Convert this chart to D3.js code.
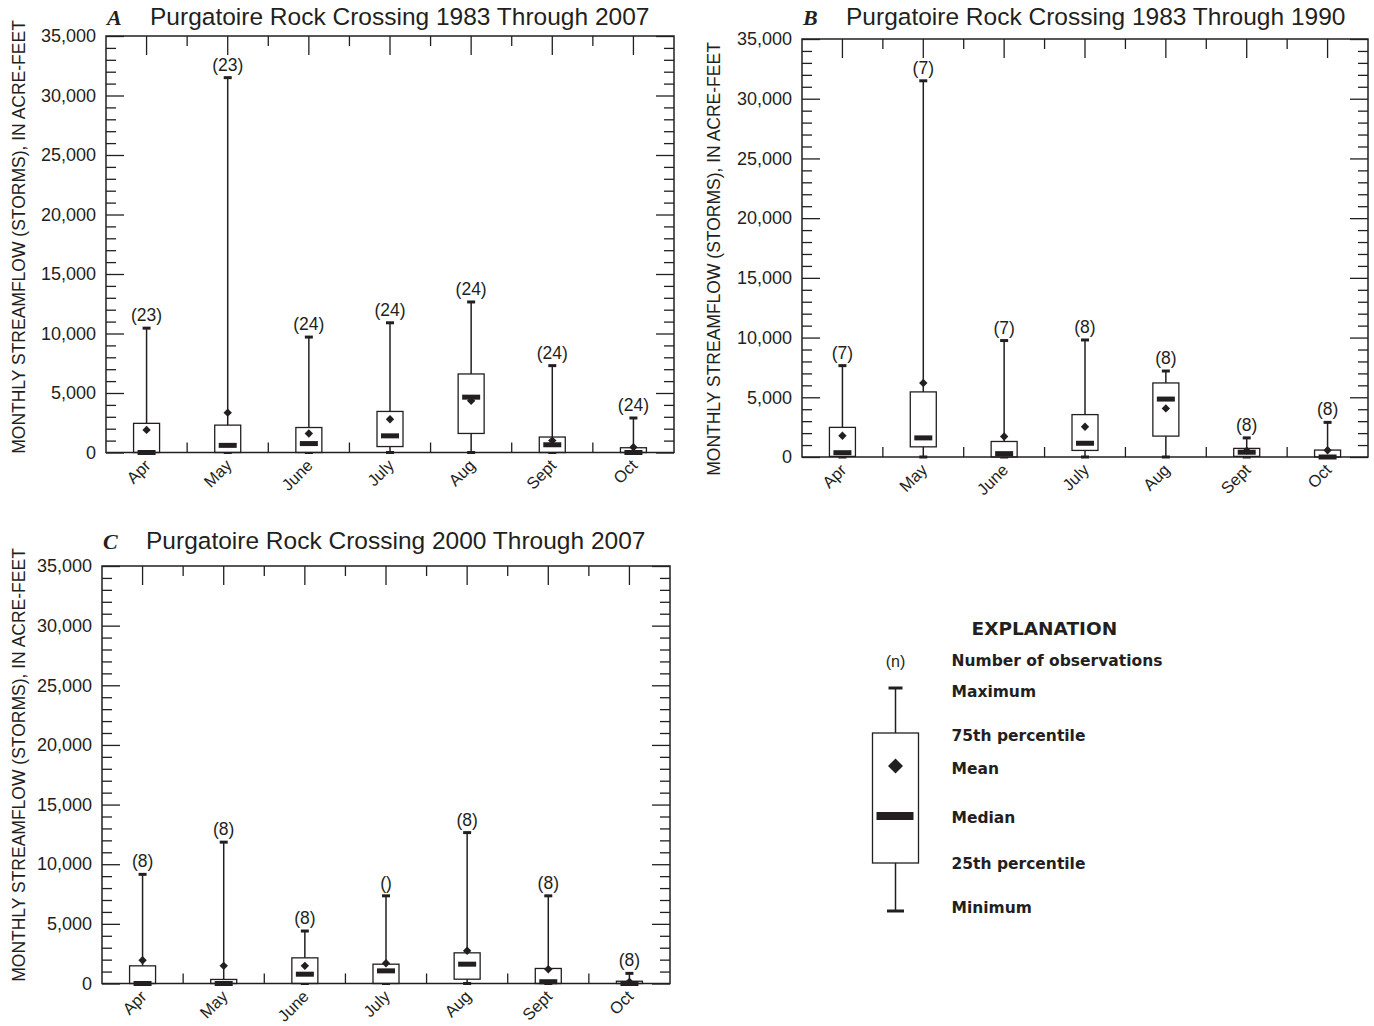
<!DOCTYPE html>
<html>
<head>
<meta charset="utf-8">
<script src="https://cdn.jsdelivr.net/npm/d3@7"></script>
<style>
  body { margin: 0; background: #fff; }
  svg { display: block; font-family: "Liberation Sans", Arial, Helvetica, sans-serif; }
</style>
</head>
<body>
<svg id="chart" width="1374" height="1026"></svg>
<script>
// ---- Data: monthly storm streamflow, acre-feet ----
const months = ["Apr", "May", "June", "July", "Aug", "Sept", "Oct"];
const yMajorTicks = [0, 5000, 10000, 15000, 20000, 25000, 30000, 35000];
const yMinorStep = 1000;
const yMax = 35000;

// A: 1983 through 2007
const aN      = ["23", "23", "24", "24", "24", "24", "24"];
const aMin    = [0, 0, 0, 0, 0, 0, 0];
const aQ1     = [0, 0, 0, 500, 1600, 0, 0];
const aMedian = [0, 600, 750, 1400, 4650, 650, 0];
const aQ3     = [2450, 2300, 2100, 3450, 6600, 1300, 400];
const aMaxV   = [10450, 31500, 9700, 10900, 12650, 7300, 2900];
const aMean   = [1900, 3350, 1600, 2800, 4350, 1000, 450];

// B: 1983 through 1990
const bN      = ["7", "7", "7", "8", "8", "8", "8"];
const bMin    = [0, 0, 0, 0, 0, 0, 0];
const bQ1     = [50, 850, 0, 550, 1750, 50, 0];
const bMedian = [360, 1600, 280, 1150, 4850, 400, 0];
const bQ3     = [2480, 5450, 1300, 3550, 6200, 720, 580];
const bMaxV   = [7650, 31500, 9750, 9800, 7200, 1600, 2900];
const bMean   = [1780, 6200, 1720, 2530, 4070, 530, 570];

// C: 2000 through 2007
const cN      = ["8", "8", "8", "", "8", "8", "8"];
const cMin    = [0, 0, 0, 0, 0, 0, 0];
const cQ1     = [0, 0, 0, 0, 360, 0, 0];
const cMedian = [0, 0, 780, 1060, 1620, 150, 0];
const cQ3     = [1480, 340, 2150, 1620, 2570, 1260, 190];
const cMaxV   = [9150, 11850, 4400, 7350, 12650, 7350, 850];
const cMean   = [1950, 1480, 1480, 1700, 2740, 1200, 140];

// Explanation entries
const legendLabels = ["Number of observations", "Maximum", "75th percentile",
                      "Mean", "Median", "25th percentile", "Minimum"];

// ---- Drawing ----
const ink = "#231f20";
const svg = d3.select("#chart");

const panels = [
  { letter: "A", title: "Purgatoire Rock Crossing 1983 Through 2007",
    n: aN, min: aMin, q1: aQ1, median: aMedian, q3: aQ3, max: aMaxV, mean: aMean,
    left: 106, right: 674, top: 36, bottom: 452.5, titleY: 25, yTitleX: 25, yTitleY: 237 },
  { letter: "B", title: "Purgatoire Rock Crossing 1983 Through 1990",
    n: bN, min: bMin, q1: bQ1, median: bMedian, q3: bQ3, max: bMaxV, mean: bMean,
    left: 802, right: 1368, top: 39, bottom: 457, titleY: 25, yTitleX: 720, yTitleY: 259 },
  { letter: "C", title: "Purgatoire Rock Crossing 2000 Through 2007",
    n: cN, min: cMin, q1: cQ1, median: cMedian, q3: cQ3, max: cMaxV, mean: cMean,
    left: 102, right: 670, top: 566, bottom: 983.5, titleY: 549, yTitleX: 25, yTitleY: 765 }
];

const yMinorTicks = d3.range(yMinorStep, yMax, yMinorStep).filter(v => v % 5000 !== 0);

function diamond(cx, cy, r) {
  return `M${cx},${cy - r}L${cx + r},${cy}L${cx},${cy + r}L${cx - r},${cy}Z`;
}

function styleAxis(sel) {
  sel.select(".domain").remove();
  sel.selectAll(".tick line").attr("stroke", ink).attr("stroke-width", 1.3);
  sel.selectAll(".tick text").attr("fill", ink).attr("font-size", 18)
     .attr("font-family", "'Liberation Sans', Arial, sans-serif");
}

function drawPanel(p) {
  const g = svg.append("g");
  const x = d3.scaleBand().domain(months).range([p.left, p.right]);
  const y = d3.scaleLinear().domain([0, yMax]).range([p.bottom, p.top]);
  const cx = m => x(m) + x.bandwidth() / 2;

  // Title with italic panel letter
  g.append("text").attr("x", p.left + 1).attr("y", p.titleY)
    .attr("font-family", "'Liberation Serif', 'Times New Roman', serif")
    .attr("font-style", "italic").attr("font-weight", "bold")
    .attr("font-size", 22).attr("fill", ink).text(p.letter);
  g.append("text").attr("x", p.left + 44).attr("y", p.titleY)
    .attr("font-size", 24.5).attr("fill", ink).text(p.title);

  // Y axis title
  g.append("text")
    .attr("transform", `translate(${p.yTitleX},${p.yTitleY}) rotate(-90)`)
    .attr("text-anchor", "middle").attr("font-size", 17.5).attr("fill", ink)
    .text("MONTHLY STREAMFLOW (STORMS), IN ACRE-FEET");

  // Left axis: labelled major ticks + minor ticks, all pointing inward
  g.append("g").attr("transform", `translate(${p.left},0)`)
    .call(d3.axisLeft(y).tickValues(yMajorTicks).tickSize(-18).tickPadding(10)
      .tickFormat(d3.format(",")))
    .call(styleAxis);
  g.append("g").attr("transform", `translate(${p.left},0)`)
    .call(d3.axisLeft(y).tickValues(yMinorTicks).tickSize(-10).tickFormat(""))
    .call(styleAxis);
  // Right axis mirror ticks
  g.append("g").attr("transform", `translate(${p.right},0)`)
    .call(d3.axisRight(y).tickValues(yMajorTicks).tickSize(-18).tickFormat(""))
    .call(styleAxis);
  g.append("g").attr("transform", `translate(${p.right},0)`)
    .call(d3.axisRight(y).tickValues(yMinorTicks).tickSize(-10).tickFormat(""))
    .call(styleAxis);
  // Top axis: long ticks at month centres
  g.append("g").attr("transform", `translate(0,${p.top})`)
    .call(d3.axisTop(x).tickSize(-19).tickFormat(""))
    .call(styleAxis);
  // Short ticks at month boundaries, top and bottom
  const bounds = months.slice(1);
  g.selectAll("line.bt").data(bounds).join("line")
    .attr("x1", m => x(m)).attr("x2", m => x(m))
    .attr("y1", p.top).attr("y2", p.top + 10)
    .attr("stroke", ink).attr("stroke-width", 1.3);
  g.selectAll("line.bb").data(bounds).join("line")
    .attr("x1", m => x(m)).attr("x2", m => x(m))
    .attr("y1", p.bottom).attr("y2", p.bottom - 10)
    .attr("stroke", ink).attr("stroke-width", 1.3);

  // Month labels, slanted
  g.selectAll("text.month").data(months).join("text")
    .attr("transform", m => `translate(${cx(m) + 5},${p.bottom + 14}) rotate(-45)`)
    .attr("text-anchor", "end").attr("font-size", 16.5).attr("fill", ink)
    .text(m => m);

  const stats = months.map((m, i) => ({
    m, n: p.n[i], min: p.min[i], q1: p.q1[i], median: p.median[i],
    q3: p.q3[i], max: p.max[i], mean: p.mean[i]
  }));

  const bx = g.selectAll("g.box").data(stats).join("g");
  // whisker
  bx.append("line")
    .attr("x1", d => cx(d.m)).attr("x2", d => cx(d.m))
    .attr("y1", d => y(d.min)).attr("y2", d => y(d.max))
    .attr("stroke", ink).attr("stroke-width", 1.5);
  // caps
  bx.append("line")
    .attr("x1", d => cx(d.m) - 4).attr("x2", d => cx(d.m) + 4)
    .attr("y1", d => y(d.max)).attr("y2", d => y(d.max))
    .attr("stroke", ink).attr("stroke-width", 3);
  bx.append("line")
    .attr("x1", d => cx(d.m) - 4).attr("x2", d => cx(d.m) + 4)
    .attr("y1", d => y(d.min)).attr("y2", d => y(d.min))
    .attr("stroke", ink).attr("stroke-width", 3);
  // interquartile box
  bx.append("rect")
    .attr("x", d => cx(d.m) - 13).attr("width", 26)
    .attr("y", d => y(d.q3)).attr("height", d => Math.max(0, y(d.q1) - y(d.q3)))
    .attr("fill", "#fff").attr("stroke", ink).attr("stroke-width", 1.3);
  // median bar
  bx.append("rect")
    .attr("x", d => cx(d.m) - 9).attr("width", 18)
    .attr("y", d => y(d.median) - 2.5).attr("height", 5)
    .attr("fill", ink);
  // mean
  bx.append("path")
    .attr("d", d => diamond(cx(d.m), y(d.mean), 4.2))
    .attr("fill", ink);
  // number of observations
  bx.append("text")
    .attr("x", d => cx(d.m)).attr("y", d => y(d.max) - 7)
    .attr("text-anchor", "middle").attr("font-size", 17.5).attr("fill", ink)
    .text(d => `(${d.n})`);

  // frame
  g.append("rect")
    .attr("x", p.left).attr("y", p.top)
    .attr("width", p.right - p.left).attr("height", p.bottom - p.top)
    .attr("fill", "none").attr("stroke", ink).attr("stroke-width", 1.5);
}

panels.forEach(drawPanel);

// ---- Explanation ----
(function drawLegend() {
  const g = svg.append("g");
  const sx = 895.5;          // symbol centre line
  const tx = 951.5;          // label column
  const rows = [666, 697, 741, 774, 823, 869, 913];
  const boldFont = "'DejaVu Sans', Verdana, sans-serif";

  g.append("text").attr("x", 971.5).attr("y", 635)
    .attr("font-family", boldFont).attr("font-weight", "bold")
    .attr("font-size", 18.5).attr("fill", ink).text("EXPLANATION");

  g.selectAll("text.lab").data(legendLabels).join("text")
    .attr("x", tx).attr("y", (d, i) => rows[i])
    .attr("font-family", boldFont).attr("font-weight", "bold")
    .attr("font-size", 15.5).attr("fill", ink).text(d => d);

  g.append("text").attr("x", sx).attr("y", 667).attr("text-anchor", "middle")
    .attr("font-size", 16).attr("fill", ink).text("(n)");

  const capTop = 688, boxTop = 733, boxBot = 863, capBot = 911;
  g.append("line").attr("x1", sx).attr("x2", sx).attr("y1", capTop).attr("y2", boxTop)
    .attr("stroke", ink).attr("stroke-width", 1.5);
  g.append("line").attr("x1", sx).attr("x2", sx).attr("y1", boxBot).attr("y2", capBot)
    .attr("stroke", ink).attr("stroke-width", 1.5);
  g.append("line").attr("x1", sx - 7).attr("x2", sx + 7).attr("y1", capTop).attr("y2", capTop)
    .attr("stroke", ink).attr("stroke-width", 3);
  g.append("line").attr("x1", sx - 8.5).attr("x2", sx + 8.5).attr("y1", capBot).attr("y2", capBot)
    .attr("stroke", ink).attr("stroke-width", 3);
  g.append("rect").attr("x", sx - 23).attr("width", 46)
    .attr("y", boxTop).attr("height", boxBot - boxTop)
    .attr("fill", "#fff").attr("stroke", ink).attr("stroke-width", 1.3);
  g.append("path").attr("d", diamond(sx, 766, 7.5)).attr("fill", ink);
  g.append("rect").attr("x", sx - 19).attr("width", 37).attr("y", 812).attr("height", 8)
    .attr("fill", ink);
})();
</script>
</body>
</html>
